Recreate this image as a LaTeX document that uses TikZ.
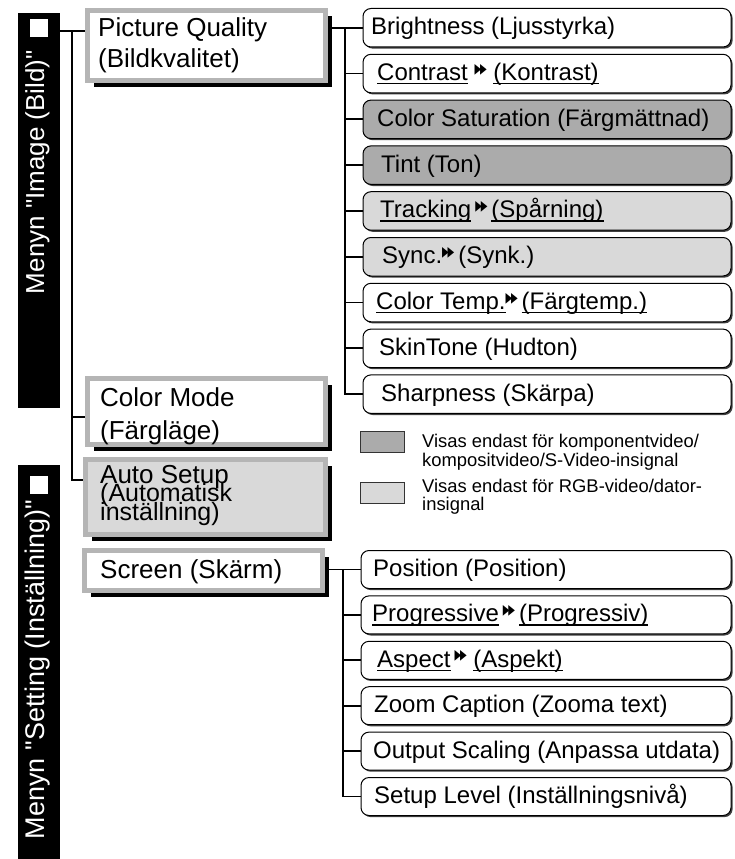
\documentclass[tikz,border=0pt]{standalone}
\usepackage{fontspec}
\usepackage{graphicx}
\setmainfont{Liberation Sans}
\newfontfamily\barfont[Ligatures=TeXOff]{Liberation Sans}
\newfontfamily\dvfont{DejaVu Sans}
\usetikzlibrary{shadows}
\definecolor{frame}{gray}{0.71}
\definecolor{dk}{gray}{0.67}
\definecolor{lt}{gray}{0.85}
\newcommand\ulx[1]{\setbox0\hbox{#1}\rlap{\rule[-3.6pt]{\wd0}{1.2pt}}\box0\relax}
\newcommand\dbl{\raisebox{7.5pt}{\scalebox{0.62}[1.0]{\fontsize{14}{14}\selectfont\dvfont ▶\kern-2pt▶}}}
\newcommand\tightls{\lineskiplimit-30pt\lineskip0pt\relax}
\begin{document}
\begin{tikzpicture}[x=1pt,y=-1pt,
  conn/.style={line width=1.8pt},
  bar/.style={fill=black, inner sep=0pt, minimum width=42pt},
  sq/.style={fill=white, inner sep=0pt, minimum size=18pt},
  bartext/.style={text=white, font=\barfont\fontsize{26}{30}\selectfont, inner sep=0pt},
  lvlbox/.style={draw=frame, line width=5pt, fill=white, inner sep=0pt,
    general shadow={fill=black, shadow xshift=6pt, shadow yshift=-6pt}},
  ltext/.style={font=\fontsize{26}{30}\selectfont, inner sep=0pt, anchor=base west},
  cbox/.style={draw=black, line width=1pt, rounded corners=8pt, fill=white, inner sep=0pt,
    minimum height=38.5pt, general shadow={fill=black!75, shadow xshift=1.6pt, shadow yshift=-1.6pt}},
  ctop/.style={cbox, minimum width=368pt},
  cbot/.style={cbox, minimum width=370pt, minimum height=38pt},
  ctext/.style={font=\fontsize{24}{28}\selectfont, inner sep=0pt, anchor=base west},
  legbox/.style={draw=black!80, line width=0.9pt, inner sep=0pt, minimum width=44pt, minimum height=21pt},
  legtext/.style={font=\fontsize{18.4}{20}\selectfont, inner sep=0pt, anchor=base west},
]
\useasboundingbox[fill=white] (0,0) rectangle (735,859);

% side bars
\node[bar, minimum height=395pt] (bar1) at (38.5,210.5) {};
\node[bar, minimum height=394pt] (bar2) at (38.5,662) {};
\node[sq] (sq1) at (38.5,28.5) {};
\node[sq] (sq2) at (38.5,484.5) {};
\node[bartext, rotate=90, anchor=base east] (bt1) at (44,50) {Menyn "Image (Bild)"};
\node[bartext, font=\barfont\fontsize{27}{30}\selectfont, rotate=90, anchor=base east] (bt2) at (44,500) {Menyn "Setting (Inställning)"};

% junction points
\coordinate (j1) at (72,31);
\coordinate (j2) at (72,417);
\coordinate (j3) at (72,480);
\coordinate (k0) at (345,27.75);
\coordinate (k1) at (343,569.5);

% level-1 boxes
\node[lvlbox, minimum width=238pt, minimum height=70pt] (pq) at (206.5,45.5) {};
\node[lvlbox, minimum width=238pt, minimum height=66pt] (cm) at (206.5,411.5) {};
\node[lvlbox, fill=lt, minimum width=240pt, minimum height=75pt] (as) at (205.5,497) {};
\node[lvlbox, minimum width=238pt, minimum height=40pt] (sc) at (203.5,570.5) {};

\node[ltext] (pq1) at (98,37) {Picture Quality};
\node[ltext] (pq2) at (98,67) {(Bildkvalitet)};
\node[ltext] (cm1) at (100,406) {Color Mode};
\node[ltext] (cm2) at (100,439) {(Färgläge)};
\node[ltext, align=left, font=\fontsize{25}{18.5}\selectfont\tightls] (as1) at (100,520)
  {{\fontsize{26}{18.5}\selectfont Auto Setup}\\(Automatisk\\inställning)};
\node[ltext] (sc1) at (100,578) {Screen (Skärm)};

% top children
\node[ctop] (c1) at (547,27.75) {};
\node[ctop] (c2) at (547,73.55) {};
\node[ctop, fill=dk] (c3) at (547,119.35) {};
\node[ctop, fill=dk] (c4) at (547,165.15) {};
\node[ctop, fill=lt] (c5) at (547,210.95) {};
\node[ctop, fill=lt] (c6) at (547,256.75) {};
\node[ctop] (c7) at (547,302.55) {};
\node[ctop] (c8) at (547,348.35) {};
\node[ctop] (c9) at (547,394.15) {};

\node[ctext] (t1) at (371,34.75) {Brightness (Ljusstyrka)};
\node[ctext] (t2) at (377,80.55) {\ulx{Contrast} \dbl{} \ulx{(Kontrast)}};
\node[ctext] (t3) at (377,126.35) {Color Saturation (Färgmättnad)};
\node[ctext] (t4) at (381,172.15) {Tint (Ton)};
\node[ctext] (t5) at (380,217.95) {\ulx{Tracking}\,\dbl\,\ulx{(Spårning)}};
\node[ctext] (t6) at (382,263.75) {Sync.\dbl\,(Synk.)};
\node[ctext] (t7) at (376,309.55) {\ulx{Color Temp.}\dbl\,\ulx{(Färgtemp.)}};
\node[ctext] (t8) at (379,355.35) {SkinTone (Hudton)};
\node[ctext] (t9) at (381,401.15) {Sharpness (Skärpa)};

% bottom children
\node[cbot] (d1) at (546,569.5) {};
\node[cbot] (d2) at (546,614.9) {};
\node[cbot] (d3) at (546,660.3) {};
\node[cbot] (d4) at (546,705.7) {};
\node[cbot] (d5) at (546,751.1) {};
\node[cbot] (d6) at (546,796.5) {};

\node[ctext] (u1) at (373,576.5) {Position (Position)};
\node[ctext] (u2) at (372,621.9) {\ulx{Progressive}\,\dbl\,\ulx{(Progressiv)}};
\node[ctext] (u3) at (377,667.3) {\ulx{Aspect}\,\dbl{} \ulx{(Aspekt)}};
\node[ctext] (u4) at (374,712.7) {Zoom Caption (Zooma text)};
\node[ctext] (u5) at (373,758.1) {Output Scaling (Anpassa utdata)};
\node[ctext] (u6) at (374,803.5) {Setup Level (Inställningsnivå)};

% connectors
\draw[conn] (bar1.east |- j1) -- (pq.west |- j1);
\draw[conn] (j1) -- (j3) -- (as.west |- j3);
\draw[conn] (j2) -- (cm.west |- j2);

\draw[conn] (pq.east |- c1.west) -- (c1.west);
\draw[conn] (k0) -- (k0 |- c9.west) -- (c9.west);
\foreach \i in {2,...,8} \draw[conn] (k0 |- c\i.west) -- (c\i.west);

\draw[conn] (sc.east |- d1.west) -- (d1.west);
\draw[conn] (k1) -- (k1 |- d6.west) -- (d6.west);
\foreach \i in {2,...,5} \draw[conn] (k1 |- d\i.west) -- (d\i.west);

% legend
\node[legbox, fill=dk] (lg1) at (382,441.5) {};
\node[legbox, fill=lt] (lg2) at (382,493) {};
\node[legtext] (lt1) at (422,447) {Visas endast för komponentvideo/};
\node[legtext] (lt2) at (422,466) {kompositvideo/S-Video-insignal};
\node[legtext] (lt3) at (422,492) {Visas endast för RGB-video/dator-};
\node[legtext] (lt4) at (422,510) {insignal};
\end{tikzpicture}
\end{document}
